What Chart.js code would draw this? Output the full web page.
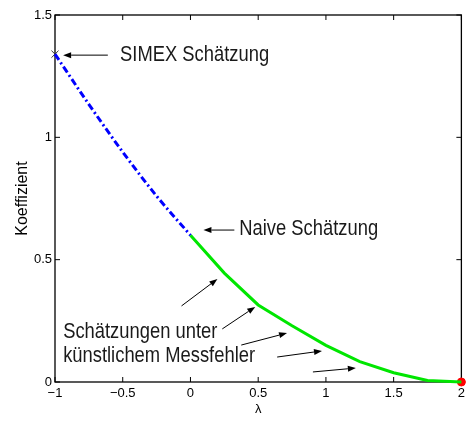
<!DOCTYPE html>
<html>
<head>
<meta charset="utf-8">
<script src="https://cdn.jsdelivr.net/npm/chart.js@4/dist/chart.umd.min.js"></script>
<style>
  html, body { margin: 0; padding: 0; background: #fff; }
  #wrap { width: 469px; height: 423px; }
</style>
</head>
<body>
<div id="wrap"><canvas id="c" width="469" height="423"></canvas></div>
<script>
// Extrapolated SIMEX curve (dash-dot) for lambda in [-1, 0]
const extrapLambda = [-1, -0.75, -0.5, -0.25, 0];
const extrapCoef   = [1.34, 1.135, 0.94, 0.76, 0.6];

// Estimates under added measurement error for lambda in [0, 2]
const simLambda = [0, 0.25, 0.5, 0.75, 1, 1.25, 1.5, 1.75, 2];
const simCoef   = [0.6, 0.445, 0.315, 0.23, 0.15, 0.083, 0.038, 0.006, 0];

// Marked points
const simexPoint = [-1, 1.34];
const endPoint   = [2, 0];

// Axis ticks
const xTicks = [-1, -0.5, 0, 0.5, 1, 1.5, 2];
const yTicks = [0, 0.5, 1, 1.5];

// Labels in data coordinates: [lambda, coefficient, text]
const labelTexts = [
  [-0.52, 1.336, 'SIMEX Schätzung'],
  [0.36, 0.625, 'Naive Schätzung'],
  [-0.94, 0.204, 'Schätzungen unter'],
  [-0.94, 0.106, 'künstlichem Messfehler']
];
// Arrows in data coordinates: [fromX, fromY, toX, toY]
const arrows = [
  [-0.61, 1.336, -0.94, 1.336],
  [0.324, 0.621, 0.096, 0.621],
  [-0.066, 0.311, 0.199, 0.421],
  [0.235, 0.217, 0.478, 0.307],
  [0.375, 0.151, 0.713, 0.200],
  [0.640, 0.102, 0.971, 0.127],
  [0.904, 0.041, 1.221, 0.057]
];

const toXY = (xs, ys) => xs.map((x, i) => ({ x: x, y: ys[i] }));
const fmt = v => (v < 0 ? '\u2212' + Math.abs(v) : String(v));

// Box frame with inward ticks on all four sides
const framePlugin = {
  id: 'frame',
  beforeDatasetsDraw(chart) {
    const { ctx, chartArea: a, scales } = chart;
    ctx.save();
    ctx.strokeStyle = '#000';
    ctx.lineWidth = 1.3;
    ctx.strokeRect(a.left, a.top, a.right - a.left, a.bottom - a.top);
    ctx.lineWidth = 1;
    const len = 5;
    ctx.beginPath();
    xTicks.forEach(v => {
      const px = scales.x.getPixelForValue(v);
      ctx.moveTo(px, a.bottom); ctx.lineTo(px, a.bottom - len);
      ctx.moveTo(px, a.top); ctx.lineTo(px, a.top + len);
    });
    yTicks.forEach(v => {
      const py = scales.y.getPixelForValue(v);
      ctx.moveTo(a.left, py); ctx.lineTo(a.left + len, py);
      ctx.moveTo(a.right, py); ctx.lineTo(a.right - len, py);
    });
    ctx.stroke();
    ctx.restore();
  }
};

// Text labels (condensed) and arrows placed through the scales
const notesPlugin = {
  id: 'notes',
  afterDatasetsDraw(chart) {
    const { ctx, scales } = chart;
    const X = v => scales.x.getPixelForValue(v);
    const Y = v => scales.y.getPixelForValue(v);
    const squeeze = 0.835;
    ctx.save();
    ctx.fillStyle = '#1a1a1a';
    ctx.font = '22px "Liberation Sans", Arial, sans-serif';
    ctx.textBaseline = 'middle';
    ctx.textAlign = 'left';
    labelTexts.forEach(([x, y, t]) => {
      ctx.save();
      ctx.translate(X(x), Y(y));
      ctx.scale(squeeze, 1);
      ctx.fillText(t, 0, 0);
      ctx.restore();
    });
    ctx.strokeStyle = '#000';
    ctx.fillStyle = '#000';
    ctx.lineWidth = 1;
    arrows.forEach(([x1, y1, x2, y2]) => {
      const ax = X(x1), ay = Y(y1), bx = X(x2), by = Y(y2);
      const ang = Math.atan2(by - ay, bx - ax);
      const hl = 8, hw = 3;
      const cx = bx - hl * Math.cos(ang), cy = by - hl * Math.sin(ang);
      ctx.beginPath();
      ctx.moveTo(ax, ay); ctx.lineTo(cx, cy);
      ctx.stroke();
      ctx.beginPath();
      ctx.moveTo(bx, by);
      ctx.lineTo(cx + hw * Math.sin(ang), cy - hw * Math.cos(ang));
      ctx.lineTo(cx - hw * Math.sin(ang), cy + hw * Math.cos(ang));
      ctx.closePath();
      ctx.fill();
    });
    ctx.restore();
  }
};

const tickFont = { family: 'Arial, "Liberation Sans", sans-serif', size: 13 };

new Chart(document.getElementById('c'), {
  type: 'line',
  data: {
    datasets: [
      {
        data: toXY(extrapLambda, extrapCoef),
        borderColor: '#0000ff',
        borderWidth: 3,
        borderDash: [7, 3, 2, 3],
        cubicInterpolationMode: 'monotone',
        pointRadius: 0,
        fill: false,
        clip: false
      },
      {
        data: toXY(simLambda, simCoef),
        borderColor: '#00e600',
        borderWidth: 3,
        tension: 0,
        pointRadius: 0,
        fill: false,
        clip: false
      },
      {
        data: [{ x: simexPoint[0], y: simexPoint[1] }],
        showLine: false,
        pointStyle: 'crossRot',
        pointRadius: 5,
        pointBorderColor: '#333',
        pointBorderWidth: 1,
        clip: false
      },
      {
        data: [{ x: endPoint[0], y: endPoint[1] }],
        showLine: false,
        pointStyle: 'circle',
        pointRadius: 4,
        pointBackgroundColor: '#ff0000',
        pointBorderColor: '#ff0000',
        clip: false
      }
    ]
  },
  options: {
    responsive: false,
    animation: false,
    events: [],
    layout: { padding: { top: 15, right: 6, left: 0, bottom: 0 } },
    plugins: { legend: { display: false }, tooltip: { enabled: false } },
    scales: {
      x: {
        type: 'linear',
        min: -1, max: 2,
        grid: { display: false, drawTicks: false, tickLength: 0 },
        border: { display: false },
        afterBuildTicks: s => { s.ticks = xTicks.map(v => ({ value: v })); },
        afterFit: s => { s.height = 41; },
        ticks: {
          callback: v => fmt(v),
          color: '#000',
          padding: 4,
          maxRotation: 0,
          autoSkip: false,
          font: tickFont
        },
        title: {
          display: true,
          text: 'λ',
          color: '#000',
          padding: { top: 0, bottom: 6 },
          font: tickFont
        }
      },
      y: {
        type: 'linear',
        min: 0, max: 1.5,
        grid: { display: false, drawTicks: false, tickLength: 0 },
        border: { display: false },
        afterBuildTicks: s => { s.ticks = yTicks.map(v => ({ value: v })); },
        afterFit: s => { s.width = 55; },
        ticks: {
          callback: v => fmt(v),
          color: '#000',
          padding: 3,
          autoSkip: false,
          font: tickFont
        },
        title: {
          display: true,
          text: 'Koeffizient',
          color: '#000',
          padding: { top: 13, bottom: 0 },
          font: { family: 'Arial, "Liberation Sans", sans-serif', size: 16 }
        }
      }
    }
  },
  plugins: [framePlugin, notesPlugin]
});
</script>
</body>
</html>
